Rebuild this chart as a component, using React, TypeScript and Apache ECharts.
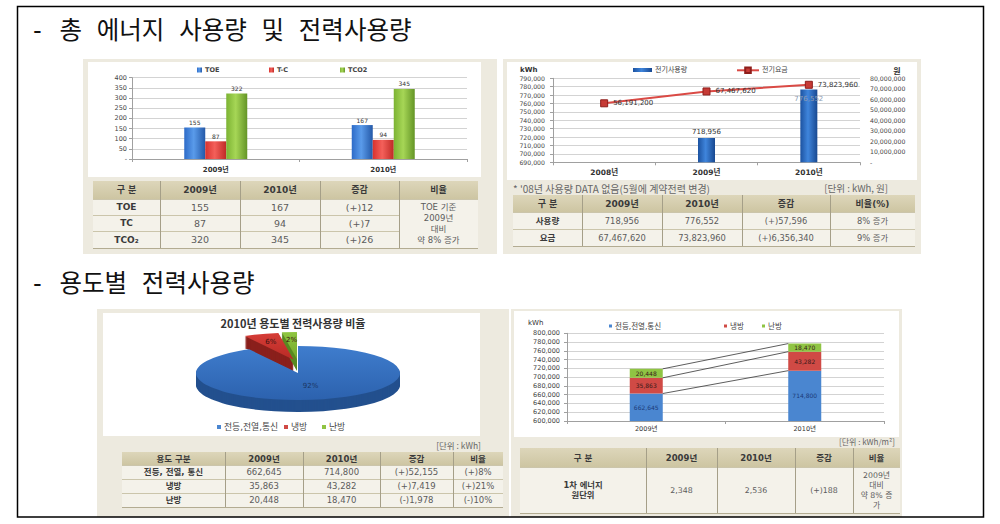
import React, { useEffect, useRef } from "react";
import * as echarts from "echarts";

const KR = "'Noto Sans CJK KR', 'Noto Sans', sans-serif";
const NUM = "'DejaVu Sans', 'Noto Sans CJK KR', sans-serif";
const TITLE_FONT = "'DejaVu Sans Mono', 'Liberation Mono', 'Noto Sans CJK KR', monospace";

// ---------- section titles ----------
const sectionTitles = ["- 총 에너지 사용량 및 전력사용량", "- 용도별 전력사용량"];

// ---------- top-left: total energy ----------
const energyYears = ["2009년", "2010년"];
const energyNames = ["TOE", "T-C", "TCO2"];
const energyToe = [155, 167];
const energyTc = [87, 94];
const energyTco2 = [322, 345];
const energyTableHeader = ["구 분", "2009년", "2010년", "증감", "비율"];
const energyTableBody = [
  ["TOE", "155", "167", "(+)12"],
  ["TC", "87", "94", "(+)7"],
  ["TCO₂", "320", "345", "(+)26"],
];
const energyTableRatio = "TOE 기준\n2009년\n대비\n약 8% 증가";

// ---------- top-right: electricity ----------
const powerYears = ["2008년", "2009년", "2010년"];
const powerNames = ["전기사용량", "전기요금"];
const powerUsage: (number | null)[] = [null, 718956, 776552];
const powerCost = [56191200, 67467620, 73823960];
const powerNote = "* '08년 사용량 DATA 없음(5월에 계약전력 변경)";
const powerUnit = "[단위 : kWh, 원]";
const powerTableHeader = ["구 분", "2009년", "2010년", "증감", "비율(%)"];
const powerTableBody = [
  ["사용량", "718,956", "776,552", "(+)57,596", "8% 증가"],
  ["요금", "67,467,620", "73,823,960", "(+)6,356,340", "9% 증가"],
];

// ---------- bottom-left: pie by use ----------
const pieTitle = "2010년 용도별 전력사용량 비율";
const useNames = ["전등,전열,통신", "냉방", "난방"];
const use2010 = [714800, 43282, 18470];
const useUnit = "[단위 : kWh]";
const useTableHeader = ["용도 구분", "2009년", "2010년", "증감", "비율"];
const useTableBody = [
  ["전등, 전열, 통신", "662,645", "714,800", "(+)52,155", "(+)8%"],
  ["냉방", "35,863", "43,282", "(+)7,419", "(+)21%"],
  ["난방", "20,448", "18,470", "(-)1,978", "(-)10%"],
];

// ---------- bottom-right: stacked by use ----------
const stackYears = ["2009년", "2010년"];
const stackLighting = [662645, 714800];
const stackCooling = [35863, 43282];
const stackHeating = [20448, 18470];
const intensityUnit = "[단위 : kWh/m²]";
const intensityHeader = ["구 분", "2009년", "2010년", "증감", "비율"];
const intensityBody = [["1차 에너지\n원단위", "2,348", "2,536", "(+)188", "2009년\n대비\n약 8% 증\n가"]];

const fmt = (v: number) => v.toLocaleString("en-US");
const LG = (stops: [number, string][], x2 = 1, y2 = 0) =>
  new echarts.graphic.LinearGradient(0, 0, x2, y2, stops.map(([offset, color]) => ({ offset, color })));

function txt(x: number, y: number, text: string, o: any = {}) {
  return {
    type: "text",
    z: 6,
    silent: true,
    x,
    y,
    style: {
      text,
      fill: o.fill || "#444",
      fontSize: o.fontSize || 8,
      fontFamily: o.fontFamily || NUM,
      fontWeight: o.fontWeight || "normal",
      align: o.align || "center",
      verticalAlign: "middle",
      lineHeight: o.lineHeight,
    },
  };
}

type TableCfg = {
  cols: number[];
  rows: number[];
  header: string[];
  body: string[][];
  merge?: { col: number; text: string; fontSize: number; lineHeight: number };
  hFont: number;
  bFont: number;
  fFont: number;
  lh?: number;
};

function tableElements(t: TableCfg): any[] {
  const els: any[] = [];
  const x0 = t.cols[0];
  const x1 = t.cols[t.cols.length - 1];
  const y0 = t.rows[0];
  const yh = t.rows[1];
  const y1 = t.rows[t.rows.length - 1];
  els.push({
    type: "rect", z: -3, silent: true,
    shape: { x: x0, y: y0, width: x1 - x0, height: yh - y0 },
    style: { fill: LG([[0, "#ddd6ba"], [1, "#cdc5a2"]], 0, 1) },
  });
  els.push({
    type: "rect", z: -3, silent: true,
    shape: { x: x0, y: yh, width: x1 - x0, height: y1 - yh },
    style: { fill: "#f4f2ea" },
  });
  for (let i = 1; i < t.rows.length; i++) {
    const y = Math.round(t.rows[i]) + 0.5;
    const inner = t.merge && i > 1 && i < t.rows.length - 1;
    const xe = inner ? t.cols[t.merge!.col] : x1;
    els.push({
      type: "line", z: -2, silent: true,
      shape: { x1: x0, y1: y, x2: xe, y2: y },
      style: { stroke: i === t.rows.length - 1 ? "#b3ac92" : "#cbc5ab", lineWidth: 1 },
    });
  }
  for (let j = 1; j < t.cols.length - 1; j++) {
    const x = Math.round(t.cols[j]) + 0.5;
    els.push({
      type: "line", z: -2, silent: true,
      shape: { x1: x, y1: y0, x2: x, y2: y1 },
      style: { stroke: "#a59f88", lineWidth: 1 },
    });
  }
  t.header.forEach((h, j) =>
    els.push(txt((t.cols[j] + t.cols[j + 1]) / 2, (y0 + yh) / 2, h, { fontSize: t.hFont, fontWeight: "bold", fill: "#3a3a3a" }))
  );
  t.body.forEach((row, i) =>
    row.forEach((s, j) =>
      els.push(
        txt((t.cols[j] + t.cols[j + 1]) / 2, (t.rows[i + 1] + t.rows[i + 2]) / 2, s, {
          fontSize: j === 0 ? t.fFont : t.bFont,
          fontWeight: j === 0 ? "bold" : "normal",
          fill: j === 0 ? "#3a3a3a" : "#5c5c5c",
          lineHeight: t.lh,
        })
      )
    )
  );
  if (t.merge) {
    const c = t.merge.col;
    els.push(
      txt((t.cols[c] + t.cols[c + 1]) / 2, (yh + y1) / 2, t.merge.text, {
        fontSize: t.merge.fontSize, lineHeight: t.merge.lineHeight, fill: "#5c5c5c",
      })
    );
  }
  return els;
}

// pie geometry (layout only)
const PIE = { cx: 298, cy: 373, rx: 102, ry: 27, depth: 12, explode: 14 };
const pieTop = ["#3f7dcd", "#d63d37", "#8fc640"];
const pieTopDark = ["#2c62ae", "#b82a25", "#74a92c"];
const pieSide = ["#23508e", "#8a201c", "#5a8a22"];
const useColors = ["#4a86d0", "#d04a45", "#8fc443"];

export default function App() {
  const ref = useRef<HTMLDivElement>(null);

  useEffect(() => {
    if (!ref.current) return;
    const chart = echarts.init(ref.current, undefined, { renderer: "svg" });

    const pieTotal = use2010.reduce((a, b) => a + b, 0);
    const pieStart: number[] = [];
    let acc = 0;
    use2010.forEach((v) => {
      pieStart.push((acc / pieTotal) * Math.PI * 2);
      acc += v;
    });

    const cum2009 = [stackLighting[0], stackLighting[0] + stackCooling[0], stackLighting[0] + stackCooling[0] + stackHeating[0]];
    const cum2010 = [stackLighting[1], stackLighting[1] + stackCooling[1], stackLighting[1] + stackCooling[1] + stackHeating[1]];

    const axisGray = "#a0a0a0";
    const catAxis = (gridIndex: number, data: string[], fontSize: number, margin: number, bold: boolean) => ({
      type: "category",
      gridIndex,
      data,
      axisLine: { show: true, lineStyle: { color: axisGray } },
      axisTick: { show: true, length: 3, lineStyle: { color: axisGray } },
      splitLine: { show: false },
      axisLabel: { fontSize, margin, color: "#333", fontWeight: bold ? "bold" : "normal", fontFamily: NUM },
    });
    const valAxis = (gridIndex: number, min: number, max: number, interval: number, fontSize: number, margin: number, formatter: any, extra: any = {}) => ({
      type: "value",
      gridIndex,
      min,
      max,
      interval,
      axisLine: { show: true, lineStyle: { color: axisGray } },
      axisTick: { show: true, length: 3, lineStyle: { color: axisGray } },
      splitLine: { show: true, lineStyle: { color: "#d3d3d3", width: 1 } },
      axisLabel: { fontSize, margin, color: "#444", fontFamily: NUM, formatter },
      ...extra,
    });

    const lg = (name: string, left: number, cy: number, icon: string | undefined, iw: number, ih: number, fontSize: number, bold = false) => ({
      data: [name],
      left,
      top: cy - Math.max(ih, fontSize) / 2,
      orient: "horizontal",
      padding: 0,
      itemGap: 0,
      itemWidth: iw,
      itemHeight: ih,
      icon,
      selectedMode: false,
      textStyle: { fontSize, color: "#444", fontFamily: NUM, fontWeight: bold ? "bold" : "normal", padding: [0, 0, 0, -2] },
    });

    const energyColors = [
      LG([[0, "#2d6bc8"], [0.45, "#5a9bea"], [1, "#2459a8"]]),
      LG([[0, "#d8322e"], [0.45, "#f4605a"], [1, "#bf2a26"]]),
      LG([[0, "#7cb333"], [0.45, "#a6d656"], [1, "#649526"]]),
    ];
    const energyData = [energyToe, energyTc, energyTco2];

    const graphicEls: any[] = [];
    // outer frame
    graphicEls.push({ type: "rect", z: 8, silent: true, shape: { x: 17.5, y: 6.5, width: 966, height: 510.5 }, style: { fill: "none", stroke: "#000", lineWidth: 1.5 } });
    // titles
    graphicEls.push(txt(30, 30, sectionTitles[0], { fontSize: 24.5, fontFamily: TITLE_FONT, fill: "#111", align: "left" }));
    graphicEls.push(txt(30, 283, sectionTitles[1], { fontSize: 24.5, fontFamily: TITLE_FONT, fill: "#111", align: "left" }));
    // panels
    const panel = (x: number, y: number, w: number, h: number) => ({ type: "rect", z: -10, silent: true, shape: { x, y, width: w, height: h }, style: { fill: "#edeadf" } });
    const white = (x: number, y: number, w: number, h: number) => ({ type: "rect", z: -9, silent: true, shape: { x, y, width: w, height: h }, style: { fill: "#ffffff" } });
    graphicEls.push(panel(83, 59, 414, 195), white(88, 62, 393, 115));
    graphicEls.push(panel(503, 59, 418, 195), white(507, 62, 410, 118));
    graphicEls.push(panel(97, 309, 412, 208), white(103, 313, 377, 123));
    graphicEls.push(panel(511, 309, 391, 208), white(514, 311, 385, 126));
    // chart texts
    graphicEls.push(txt(520, 70, "kWh", { fontSize: 7, fontWeight: "bold", fill: "#333", align: "left" }));
    graphicEls.push(txt(897, 70, "원", { fontSize: 8, fontWeight: "bold", fill: "#333", fontFamily: KR }));
    graphicEls.push(txt(513, 188, powerNote, { fontSize: 10, fill: "#666", align: "left", fontFamily: KR }));
    graphicEls.push(txt(888, 188, powerUnit, { fontSize: 9.5, fill: "#666", align: "right", fontFamily: KR }));
    graphicEls.push(txt(293, 323, pieTitle, { fontSize: 11, fontWeight: "bold", fill: "#333", fontFamily: KR }));
    graphicEls.push(txt(481, 445, useUnit, { fontSize: 8.5, fill: "#666", align: "right", fontFamily: KR }));
    graphicEls.push(txt(528, 323, "kWh", { fontSize: 7, fill: "#333", align: "left" }));
    graphicEls.push(txt(895, 441, intensityUnit, { fontSize: 8, fill: "#666", align: "right", fontFamily: KR }));
    // tables
    graphicEls.push(
      ...tableElements({
        cols: [93, 160, 240, 320, 399, 478],
        rows: [181, 199, 215, 231, 248],
        header: energyTableHeader,
        body: energyTableBody,
        merge: { col: 4, text: energyTableRatio, fontSize: 8.5, lineHeight: 11 },
        hFont: 9, bFont: 9.5, fFont: 9,
      })
    );
    graphicEls.push(
      ...tableElements({
        cols: [513, 582, 662, 742, 830, 915],
        rows: [195, 212, 229, 246],
        header: powerTableHeader,
        body: powerTableBody,
        hFont: 9, bFont: 8.3, fFont: 8.5,
      })
    );
    graphicEls.push(
      ...tableElements({
        cols: [122, 225, 303, 380, 453, 503],
        rows: [452, 465, 479, 493, 507],
        header: useTableHeader,
        body: useTableBody,
        hFont: 8.5, bFont: 8.5, fFont: 8.5,
      })
    );
    graphicEls.push(
      ...tableElements({
        cols: [520, 646, 717, 795, 853, 900],
        rows: [448, 467, 513],
        header: intensityHeader,
        body: intensityBody,
        hFont: 8.5, bFont: 7.8, fFont: 8.3, lh: 10,
      })
    );

    const option: any = {
      animation: false,
      backgroundColor: "#ffffff",
      textStyle: { fontFamily: NUM },
      grid: [
        { left: 132, top: 77.7, width: 335, height: 81.3, outerBoundsMode: "none" },
        { left: 553, top: 78.3, width: 307, height: 84, outerBoundsMode: "none" },
        { left: 567, top: 333.3, width: 317, height: 87.7, outerBoundsMode: "none" },
      ],
      xAxis: [
        catAxis(0, energyYears, 7, 7, true),
        catAxis(1, powerYears, 7.5, 6, true),
        catAxis(2, stackYears, 6.5, 5, false),
      ],
      yAxis: [
        valAxis(0, 0, 400, 50, 6.5, 5, (v: number) => (v === 0 ? "-" : String(v))),
        valAxis(1, 690000, 790000, 10000, 6.2, 8, (v: number) => fmt(v), { position: "left" }),
        valAxis(1, 0, 80000000, 10000000, 6.2, 10, (v: number) => (v === 0 ? "-" : fmt(v)), {
          position: "right",
          axisLine: { show: false },
          axisTick: { show: false },
          splitLine: { show: false },
        }),
        valAxis(2, 600000, 800000, 20000, 6.5, 7, (v: number) => fmt(v)),
      ],
      legend: [
        lg(energyNames[0], 197, 70, "rect", 5, 5, 6.5, true),
        lg(energyNames[1], 269, 70, "rect", 5, 5, 6.5, true),
        lg(energyNames[2], 340, 70, "rect", 5, 5, 6.5, true),
        lg(powerNames[0], 633, 70, "rect", 19, 4, 7),
        lg(powerNames[1], 736, 70, undefined, 22, 7, 7),
        lg(useNames[0], 217, 427, "rect", 4, 4, 8.8),
        lg(useNames[1], 284, 427, "rect", 4, 4, 8.8),
        lg(useNames[2], 322, 427, "rect", 4, 4, 8.8),
        lg(useNames[0], 609, 326, "rect", 3, 3, 7.5),
        lg(useNames[1], 724, 326, "rect", 3, 3, 7.5),
        lg(useNames[2], 762, 326, "rect", 3, 3, 7.5),
      ],
      series: [
        ...energyNames.map((name, i) => ({
          name,
          type: "bar",
          xAxisIndex: 0,
          yAxisIndex: 0,
          data: energyData[i],
          barWidth: 21,
          barGap: "0%",
          itemStyle: { color: energyColors[i] },
          label: { show: true, position: "top", distance: 2, fontSize: 6, color: "#333", fontFamily: NUM },
        })),
        {
          name: powerNames[0],
          type: "bar",
          xAxisIndex: 1,
          yAxisIndex: 1,
          barWidth: 17,
          itemStyle: { color: LG([[0, "#1c52a0"], [0.45, "#3f85dc"], [1, "#184890"]]) },
          data: powerUsage.map((v, i) =>
            v === null
              ? null
              : {
                  value: v,
                  label:
                    i === powerUsage.length - 1
                      ? { position: "insideTop", color: "#8d9cb4", distance: 6 }
                      : { position: "top", color: "#333", distance: 2 },
                }
          ),
          label: { show: true, fontSize: 7, fontFamily: NUM, overflow: "none", width: 60, formatter: (p: any) => fmt(p.value) },
        },
        {
          name: powerNames[1],
          type: "line",
          xAxisIndex: 1,
          yAxisIndex: 2,
          data: powerCost,
          symbol: "rect",
          symbolSize: 7,
          lineStyle: { color: "#da4a45", width: 2 },
          itemStyle: { color: "#c63a35", borderColor: "#8e1e1b", borderWidth: 1 },
          label: { show: true, position: "right", distance: 5, fontSize: 7, color: "#333", fontFamily: NUM, formatter: (p: any) => fmt(p.value) },
        },
        ...useNames.map((name, i) => ({
          name,
          type: "bar",
          stack: "use",
          xAxisIndex: 2,
          yAxisIndex: 3,
          barWidth: 33,
          data: [stackLighting, stackCooling, stackHeating][i],
          itemStyle: { color: useColors[i] },
          label: {
            show: true,
            position: "inside",
            fontSize: 6,
            fontFamily: NUM,
            color: i === 0 ? "#1b3b78" : "#3a1a1a",
            formatter: (p: any) => fmt(p.value),
          },
        })),
        {
          name: "series-lines",
          type: "custom",
          xAxisIndex: 2,
          yAxisIndex: 3,
          silent: true,
          z: 3,
          encode: { x: 0, y: [1, 2] },
          data: cum2009.map((v, i) => [0, v, cum2010[i]]),
          renderItem: (_p: any, api: any) => {
            const p0 = api.coord([0, api.value(1)]);
            const p1 = api.coord([1, api.value(2)]);
            const hw = 16.5;
            return {
              type: "line",
              shape: { x1: p0[0] + hw, y1: p0[1], x2: p1[0] - hw, y2: p1[1] },
              style: { stroke: "#333", lineWidth: 0.8 },
            };
          },
        },
        {
          name: "pie3d",
          type: "custom",
          coordinateSystem: "none",
          silent: true,
          data: use2010,
          renderItem: (params: any, api: any) => {
            const i = params.dataIndex;
            const v = api.value(0) as number;
            const t0 = pieStart[i];
            const t1 = t0 + (v / pieTotal) * Math.PI * 2;
            const tm = (t0 + t1) / 2;
            const e = i === 0 ? 0 : PIE.explode;
            const ox = Math.sin(tm) * e;
            const oy = -Math.cos(tm) * e;
            const a0 = -Math.PI / 2 + t0;
            const a1 = -Math.PI / 2 + t1;
            const base = i === 0 ? 20 : i;
            const s = PIE.ry / PIE.rx;
            const children: any[] = [];
            for (let k = PIE.depth; k >= 1; k--) {
              children.push({
                type: "group",
                x: PIE.cx + ox,
                y: PIE.cy + oy + k,
                scaleY: s,
                children: [
                  {
                    type: "sector",
                    z2: base,
                    shape: { cx: 0, cy: 0, r: PIE.rx, r0: 0, startAngle: a0, endAngle: a1, clockwise: true },
                    style: { fill: pieSide[i] },
                  },
                ],
              });
            }
            children.push({
              type: "group",
              x: PIE.cx + ox,
              y: PIE.cy + oy,
              scaleY: s,
              children: [
                {
                  type: "sector",
                  z2: base + 5,
                  shape: { cx: 0, cy: 0, r: PIE.rx, r0: 0, startAngle: a0, endAngle: a1, clockwise: true },
                  style: { fill: LG([[0, pieTop[i]], [1, pieTopDark[i]]], 0, 1) },
                },
              ],
            });
            const lr = i === 0 ? 0.5 : 0.7;
            children.push({
              type: "text",
              z2: 60,
              x: PIE.cx + ox + Math.sin(tm) * PIE.rx * lr,
              y: PIE.cy + oy - Math.cos(tm) * PIE.ry * lr,
              style: {
                text: Math.round((v / pieTotal) * 100) + "%",
                fill: i === 0 ? "#1b3563" : "#3a1010",
                fontSize: 7,
                fontFamily: NUM,
                align: "center",
                verticalAlign: "middle",
              },
            });
            return { type: "group", children };
          },
        },
      ],
      graphic: { elements: graphicEls },
    };

    chart.setOption(option);
    return () => chart.dispose();
  }, []);

  return (
    <div
      ref={ref}
      style={{ position: "fixed", left: 0, top: 0, width: 1000, height: 524, background: "#fff" }}
    />
  );
}
